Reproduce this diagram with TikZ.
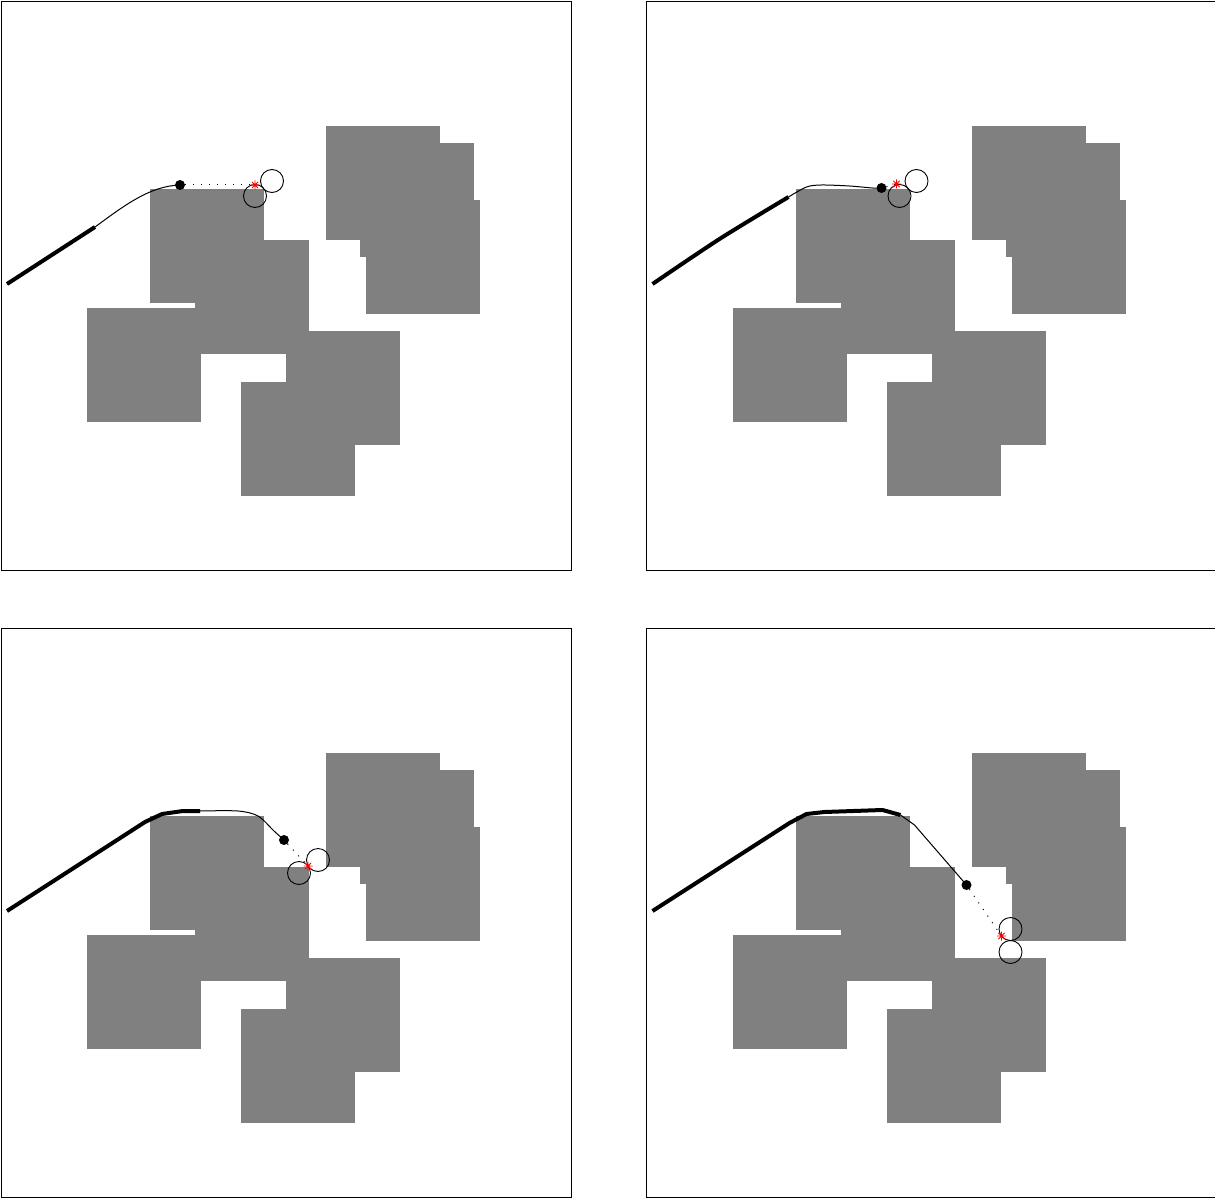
\documentclass[tikz,border=0pt]{standalone}
\usepackage{tikz}

% obstacles communs aux quatre panneaux
\newcommand{\obstacles}{%
  \foreach \ox/\oy in {326/126, 360/143, 366/200, 150/189, 195/240, 87/308, 286/331, 241/382}
    \fill[obstacle] (\ox,\oy) rectangle ++(114,114);}
% cible rouge
\newcommand{\etoile}[1]{%
  \draw[cible] (#1) +(-4.5,0) -- +(4.5,0) +(0,-4.5) -- +(0,4.5)
    +(-3.2,-3.2) -- +(3.2,3.2) +(-3.2,3.2) -- +(3.2,-3.2);}

\begin{document}
\begin{tikzpicture}[
                x=1pt, y=-1pt,
                cadre/.style={draw=black, line width=0.8pt},
                obstacle/.style={fill=gray},
                fait/.style={line width=4pt, line join=round},
                prevu/.style={line width=1pt, line join=round},
                visee/.style={line width=1pt, dash pattern=on 1pt off 7pt},
                robot/.style={circle, fill=black, inner sep=0pt, minimum size=10pt},
                capteur/.style={circle, draw=black, line width=0.9pt, inner sep=0pt, minimum size=23pt},
                cible/.style={red, line width=0.8pt}
            ]
            \useasboundingbox (0,0) rectangle (1215,1198);

            % Panneau 1
            \begin{scope}
                \draw[cadre] (1,1) rectangle (571,570);
                \obstacles
                \coordinate (a1) at (7,284);
                \coordinate (b1) at (95,227);
                \coordinate (s1) at (255,185);
                \draw[fait] (a1) -- (b1);
                \node[robot] (r1) at (180,185) {};
                \draw[prevu] (b1) .. controls (125,205) and (150,186) .. (r1.center);
                \draw[visee] (r1) -- (s1);
                \node[capteur] (ca1) at (272,181) {};
                \node[capteur] (cb1) at (255,196) {};
                \etoile{s1}
            \end{scope}

            % Panneau 2
            \begin{scope}[shift={(645.5,0)}]
                \draw[cadre] (1,1) rectangle (571,570);
                \obstacles
                \coordinate (s2) at (251,184);
                \draw[fait] plot[smooth] coordinates {(7,284) (74,239) (143,197)};
                \node[robot] (r2) at (236,188) {};
                \draw[prevu] plot[smooth] coordinates {(143,197) (161,187) (176,185) (204,186) (227,188) (236,188)};
                \draw[visee] (r2) -- (s2);
                \node[capteur] (ca2) at (271,181) {};
                \node[capteur] (cb2) at (254,196) {};
                \etoile{s2}
            \end{scope}

            % Panneau 3
            \begin{scope}[shift={(0,627)}]
                \draw[cadre] (1,1) rectangle (571,570);
                \obstacles
                \coordinate (s3) at (308,239);
                \draw[fait] (7,284) -- (145,195) -- (162,187) -- (183,184) -- (200,184);
                \node[robot] (r3) at (284,213) {};
                \draw[prevu] plot[smooth] coordinates {(200,184) (238,184) (258,189) (274,204) (284,213)};
                \draw[visee] (r3) -- (s3);
                \node[capteur] (ca3) at (318,233) {};
                \node[capteur] (cb3) at (299,246) {};
                \etoile{s3}
            \end{scope}

            % Panneau 4
            \begin{scope}[shift={(645.5,627)}]
                \draw[cadre] (1,1) rectangle (571,570);
                \obstacles
                \coordinate (s4) at (356,309);
                \draw[fait] (7,284) -- (144,196) -- (161,187) -- (179,185) -- (237,183) -- (255,188);
                \node[robot] (r4) at (321,258) {};
                \draw[prevu] (255,188) -- (269,198) -- (r4.center);
                \draw[visee] (r4) -- (s4);
                \node[capteur] (ca4) at (365,302) {};
                \node[capteur] (cb4) at (365,325) {};
                \etoile{s4}
            \end{scope}
        \end{tikzpicture}
\end{document}
